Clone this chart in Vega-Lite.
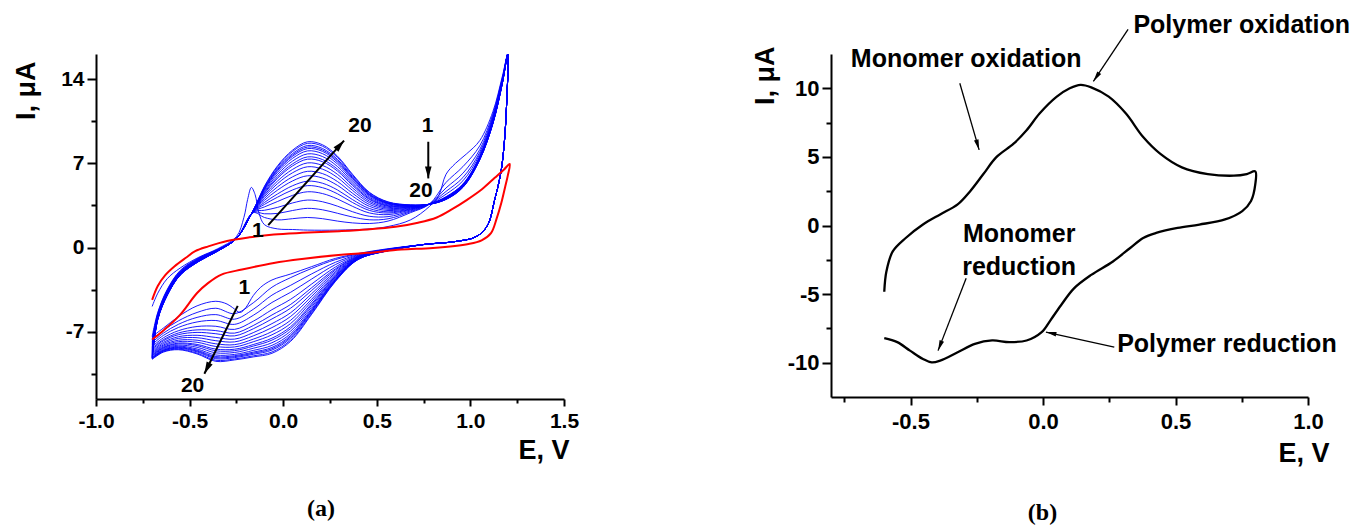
{
"$schema": "https://vega.github.io/schema/vega-lite/v6.json",
"background": "white",
"padding": {"left": 11, "top": 12, "right": 0, "bottom": 0},
"bounds": "flush",
"spacing": 267,
"config": {
 "view": {"stroke": null},
 "axis": {"domainColor": "black", "domainWidth": 2, "tickColor": "black", "tickWidth": 2, "grid": false,
  "labelFont": "Liberation Sans", "labelFontWeight": "bold", "labelFontSize": 21, "labelColor": "black",
  "titleFont": "Liberation Sans", "titleFontWeight": "bold", "titleFontSize": 27, "titleColor": "black",
  "labelFlush": false, "labelOverlap": false}
},
"hconcat": [
{
 "width": 468, "height": 345,
 "title": {"text": "(a)", "orient": "bottom", "font": "Liberation Serif", "fontSize": 24, "fontWeight": "bold", "color": "black", "anchor": "middle", "dx": -9, "offset": 34},
 "encoding": {
  "x": {"field": "E", "type": "quantitative", "scale": {"domain": [-1, 1.5], "nice": false, "zero": false},
   "axis": {"title": "E, V", "titleX": 473, "titleY": 51, "titleAlign": "right", "titleBaseline": "middle", "titleAngle": 0,
    "values": [-1, -0.75, -0.5, -0.25, 0, 0.25, 0.5, 0.75, 1, 1.25, 1.5],
    "labelExpr": "abs(datum.value*2-round(datum.value*2))<0.001 ? (datum.value<0?'-':'') + format(abs(datum.value),'.1f') : ''",
    "tickSize": {"condition": {"test": "abs(datum.value*2-round(datum.value*2))<0.001", "value": 7}, "value": 4},
    "labelPadding": 4}},
  "y": {"field": "I", "type": "quantitative", "scale": {"domain": [-12.6, 16.1], "nice": false, "zero": false},
   "axis": {"title": "I, μA", "titleX": -70, "titleY": 7, "titleAlign": "right", "titleBaseline": "middle", "titleAngle": -90,
    "values": [-10.5, -7, -3.5, 0, 3.5, 7, 10.5, 14],
    "labelExpr": "datum.value % 7 === 0 ? (datum.value<0?'-':'') + abs(datum.value) : ''",
    "tickSize": {"condition": {"test": "datum.value % 7 === 0", "value": 9}, "value": 5},
    "labelPadding": 3}}
 },
 "layer": [
  {"data": {"values": [
{"c":1,"E":-0.7,"I":-4.9},{"c":1,"E":-0.67,"I":-3.8},{"c":1,"E":-0.62,"I":-2.6},{"c":1,"E":-0.55,"I":-1.7},{"c":1,"E":-0.45,"I":-0.8},{"c":1,"E":-0.35,"I":-0.1},{"c":1,"E":-0.25,"I":0.9},{"c":1,"E":-0.21,"I":2.5},{"c":1,"E":-0.19,"I":4.0},{"c":1,"E":-0.17,"I":5.0},{"c":1,"E":-0.15,"I":4.4},{"c":1,"E":-0.13,"I":2.9},{"c":1,"E":-0.1,"I":1.9},{"c":1,"E":-0.03,"I":1.55},{"c":1,"E":0.05,"I":1.5},{"c":1,"E":0.13,"I":1.45},{"c":1,"E":0.29,"I":1.45},{"c":1,"E":0.46,"I":1.55},{"c":1,"E":0.56,"I":1.75},{"c":1,"E":0.68,"I":2.3},{"c":1,"E":0.78,"I":3.4},{"c":1,"E":0.83,"I":4.3},{"c":1,"E":0.87,"I":6.1},{"c":1,"E":0.92,"I":7.0},{"c":1,"E":0.98,"I":7.8},{"c":1,"E":1.05,"I":8.9},{"c":1,"E":1.12,"I":11.3},{"c":1,"E":1.17,"I":14.2},{"c":1,"E":1.2,"I":16.1},
{"c":1,"E":1.195,"I":12.5},{"c":1,"E":1.18,"I":8.5},{"c":1,"E":1.16,"I":6},{"c":1,"E":1.13,"I":4},{"c":1,"E":1.09,"I":1.8},{"c":1,"E":1.03,"I":0.9},{"c":1,"E":0.92,"I":0.5},{"c":1,"E":0.75,"I":0.25},{"c":1,"E":0.55,"I":-0.12},{"c":1,"E":0.4,"I":-0.5},{"c":1,"E":0.28,"I":-0.9},{"c":1,"E":0.15,"I":-1.6},{"c":1,"E":0.04,"I":-2.2},{"c":1,"E":-0.06,"I":-2.7},{"c":1,"E":-0.12,"I":-3.3},{"c":1,"E":-0.16,"I":-4.0},{"c":1,"E":-0.2,"I":-5.0},{"c":1,"E":-0.23,"I":-5.4},{"c":1,"E":-0.27,"I":-5.0},{"c":1,"E":-0.3,"I":-4.7},{"c":1,"E":-0.36,"I":-4.47},{"c":1,"E":-0.46,"I":-4.85},{"c":1,"E":-0.56,"I":-5.75},{"c":1,"E":-0.64,"I":-6.7},{"c":1,"E":-0.7,"I":-7.4},
{"c":2,"E":-0.7,"I":-7.4},{"c":2,"E":-0.67,"I":-5.4},{"c":2,"E":-0.62,"I":-3.5},{"c":2,"E":-0.55,"I":-1.9},{"c":2,"E":-0.45,"I":-0.85},{"c":2,"E":-0.35,"I":-0.15},{"c":2,"E":-0.25,"I":0.75},{"c":2,"E":-0.16,"I":2.9},{"c":2,"E":-0.1,"I":2.5},{"c":2,"E":-0.03,"I":2.3},{"c":2,"E":0.05,"I":2.4},{"c":2,"E":0.13,"I":2.5},{"c":2,"E":0.21,"I":2.4},{"c":2,"E":0.29,"I":2.2},{"c":2,"E":0.37,"I":2.05},{"c":2,"E":0.46,"I":2.0},{"c":2,"E":0.56,"I":2.2},{"c":2,"E":0.68,"I":2.9},{"c":2,"E":0.78,"I":3.6},{"c":2,"E":0.87,"I":5.42},{"c":2,"E":0.96,"I":6.73},{"c":2,"E":1.05,"I":8.46},{"c":2,"E":1.12,"I":11.1},{"c":2,"E":1.17,"I":14.08},{"c":2,"E":1.2,"I":16.1},
{"c":2,"E":1.195,"I":12.5},{"c":2,"E":1.18,"I":8.5},{"c":2,"E":1.16,"I":6},{"c":2,"E":1.13,"I":4},{"c":2,"E":1.09,"I":1.8},{"c":2,"E":1.03,"I":0.9},{"c":2,"E":0.92,"I":0.5},{"c":2,"E":0.75,"I":0.25},{"c":2,"E":0.55,"I":-0.15},{"c":2,"E":0.4,"I":-0.55},{"c":2,"E":0.28,"I":-1},{"c":2,"E":0.15,"I":-1.75},{"c":2,"E":0.04,"I":-2.5},{"c":2,"E":-0.06,"I":-3.3},{"c":2,"E":-0.16,"I":-4.6},{"c":2,"E":-0.26,"I":-5.5},{"c":2,"E":-0.36,"I":-5.05},{"c":2,"E":-0.46,"I":-5.4},{"c":2,"E":-0.56,"I":-6.1},{"c":2,"E":-0.64,"I":-6.9},{"c":2,"E":-0.7,"I":-7.7},
{"c":3,"E":-0.7,"I":-7.7},{"c":3,"E":-0.67,"I":-5.47},{"c":3,"E":-0.62,"I":-3.56},{"c":3,"E":-0.55,"I":-1.95},{"c":3,"E":-0.45,"I":-0.89},{"c":3,"E":-0.35,"I":-0.17},{"c":3,"E":-0.25,"I":0.75},{"c":3,"E":-0.16,"I":2.92},{"c":3,"E":-0.1,"I":2.81},{"c":3,"E":-0.03,"I":2.84},{"c":3,"E":0.05,"I":3.08},{"c":3,"E":0.13,"I":3.26},{"c":3,"E":0.21,"I":3.14},{"c":3,"E":0.29,"I":2.85},{"c":3,"E":0.37,"I":2.54},{"c":3,"E":0.46,"I":2.31},{"c":3,"E":0.56,"I":2.39},{"c":3,"E":0.68,"I":2.98},{"c":3,"E":0.78,"I":3.6},{"c":3,"E":0.87,"I":4.96},{"c":3,"E":0.96,"I":6.18},{"c":3,"E":1.05,"I":8.15},{"c":3,"E":1.12,"I":10.94},{"c":3,"E":1.17,"I":13.98},{"c":3,"E":1.2,"I":16.1},
{"c":3,"E":1.195,"I":12.5},{"c":3,"E":1.18,"I":8.5},{"c":3,"E":1.16,"I":6},{"c":3,"E":1.13,"I":4},{"c":3,"E":1.09,"I":1.8},{"c":3,"E":1.03,"I":0.9},{"c":3,"E":0.92,"I":0.5},{"c":3,"E":0.75,"I":0.25},{"c":3,"E":0.55,"I":-0.17},{"c":3,"E":0.4,"I":-0.6},{"c":3,"E":0.28,"I":-1.22},{"c":3,"E":0.15,"I":-2.21},{"c":3,"E":0.04,"I":-3.14},{"c":3,"E":-0.06,"I":-3.96},{"c":3,"E":-0.16,"I":-5.14},{"c":3,"E":-0.26,"I":-5.96},{"c":3,"E":-0.36,"I":-5.58},{"c":3,"E":-0.46,"I":-5.81},{"c":3,"E":-0.56,"I":-6.39},{"c":3,"E":-0.64,"I":-7.12},{"c":3,"E":-0.7,"I":-7.89},
{"c":4,"E":-0.7,"I":-7.89},{"c":4,"E":-0.67,"I":-5.54},{"c":4,"E":-0.62,"I":-3.62},{"c":4,"E":-0.55,"I":-1.99},{"c":4,"E":-0.45,"I":-0.92},{"c":4,"E":-0.35,"I":-0.18},{"c":4,"E":-0.25,"I":0.75},{"c":4,"E":-0.16,"I":2.95},{"c":4,"E":-0.1,"I":3.1},{"c":4,"E":-0.03,"I":3.34},{"c":4,"E":0.05,"I":3.71},{"c":4,"E":0.13,"I":3.95},{"c":4,"E":0.21,"I":3.81},{"c":4,"E":0.29,"I":3.44},{"c":4,"E":0.37,"I":2.98},{"c":4,"E":0.46,"I":2.6},{"c":4,"E":0.56,"I":2.57},{"c":4,"E":0.68,"I":3.05},{"c":4,"E":0.78,"I":3.6},{"c":4,"E":0.87,"I":4.67},{"c":4,"E":0.96,"I":5.82},{"c":4,"E":1.05,"I":7.93},{"c":4,"E":1.12,"I":10.81},{"c":4,"E":1.17,"I":13.9},{"c":4,"E":1.2,"I":16.1},
{"c":4,"E":1.195,"I":12.5},{"c":4,"E":1.18,"I":8.5},{"c":4,"E":1.16,"I":6},{"c":4,"E":1.13,"I":4},{"c":4,"E":1.09,"I":1.8},{"c":4,"E":1.03,"I":0.9},{"c":4,"E":0.92,"I":0.5},{"c":4,"E":0.75,"I":0.25},{"c":4,"E":0.55,"I":-0.18},{"c":4,"E":0.4,"I":-0.65},{"c":4,"E":0.28,"I":-1.41},{"c":4,"E":0.15,"I":-2.64},{"c":4,"E":0.04,"I":-3.72},{"c":4,"E":-0.06,"I":-4.57},{"c":4,"E":-0.16,"I":-5.64},{"c":4,"E":-0.26,"I":-6.39},{"c":4,"E":-0.36,"I":-6.07},{"c":4,"E":-0.46,"I":-6.19},{"c":4,"E":-0.56,"I":-6.65},{"c":4,"E":-0.64,"I":-7.31},{"c":4,"E":-0.7,"I":-8.07},
{"c":5,"E":-0.7,"I":-8.07},{"c":5,"E":-0.67,"I":-5.6},{"c":5,"E":-0.62,"I":-3.67},{"c":5,"E":-0.55,"I":-2.04},{"c":5,"E":-0.45,"I":-0.95},{"c":5,"E":-0.35,"I":-0.2},{"c":5,"E":-0.25,"I":0.75},{"c":5,"E":-0.16,"I":2.97},{"c":5,"E":-0.1,"I":3.38},{"c":5,"E":-0.03,"I":3.83},{"c":5,"E":0.05,"I":4.34},{"c":5,"E":0.13,"I":4.64},{"c":5,"E":0.21,"I":4.49},{"c":5,"E":0.29,"I":4.04},{"c":5,"E":0.37,"I":3.43},{"c":5,"E":0.46,"I":2.88},{"c":5,"E":0.56,"I":2.74},{"c":5,"E":0.68,"I":3.12},{"c":5,"E":0.78,"I":3.6},{"c":5,"E":0.87,"I":4.44},{"c":5,"E":0.96,"I":5.55},{"c":5,"E":1.05,"I":7.76},{"c":5,"E":1.12,"I":10.7},{"c":5,"E":1.17,"I":13.84},{"c":5,"E":1.2,"I":16.1},
{"c":5,"E":1.195,"I":12.5},{"c":5,"E":1.18,"I":8.5},{"c":5,"E":1.16,"I":6},{"c":5,"E":1.13,"I":4},{"c":5,"E":1.09,"I":1.8},{"c":5,"E":1.03,"I":0.9},{"c":5,"E":0.92,"I":0.5},{"c":5,"E":0.75,"I":0.25},{"c":5,"E":0.55,"I":-0.2},{"c":5,"E":0.4,"I":-0.7},{"c":5,"E":0.28,"I":-1.61},{"c":5,"E":0.15,"I":-3.06},{"c":5,"E":0.04,"I":-4.3},{"c":5,"E":-0.06,"I":-5.17},{"c":5,"E":-0.16,"I":-6.13},{"c":5,"E":-0.26,"I":-6.81},{"c":5,"E":-0.36,"I":-6.55},{"c":5,"E":-0.46,"I":-6.57},{"c":5,"E":-0.56,"I":-6.92},{"c":5,"E":-0.64,"I":-7.51},{"c":5,"E":-0.7,"I":-8.24},
{"c":6,"E":-0.7,"I":-8.24},{"c":6,"E":-0.67,"I":-5.65},{"c":6,"E":-0.62,"I":-3.71},{"c":6,"E":-0.55,"I":-2.07},{"c":6,"E":-0.45,"I":-0.98},{"c":6,"E":-0.35,"I":-0.21},{"c":6,"E":-0.25,"I":0.75},{"c":6,"E":-0.16,"I":2.98},{"c":6,"E":-0.1,"I":3.59},{"c":6,"E":-0.03,"I":4.19},{"c":6,"E":0.05,"I":4.79},{"c":6,"E":0.13,"I":5.15},{"c":6,"E":0.21,"I":4.98},{"c":6,"E":0.29,"I":4.47},{"c":6,"E":0.37,"I":3.75},{"c":6,"E":0.46,"I":3.09},{"c":6,"E":0.56,"I":2.87},{"c":6,"E":0.68,"I":3.17},{"c":6,"E":0.78,"I":3.6},{"c":6,"E":0.87,"I":4.23},{"c":6,"E":0.96,"I":5.29},{"c":6,"E":1.05,"I":7.59},{"c":6,"E":1.12,"I":10.59},{"c":6,"E":1.17,"I":13.77},{"c":6,"E":1.2,"I":16.1},
{"c":6,"E":1.195,"I":12.5},{"c":6,"E":1.18,"I":8.5},{"c":6,"E":1.16,"I":6},{"c":6,"E":1.13,"I":4},{"c":6,"E":1.09,"I":1.8},{"c":6,"E":1.03,"I":0.9},{"c":6,"E":0.92,"I":0.5},{"c":6,"E":0.75,"I":0.25},{"c":6,"E":0.55,"I":-0.21},{"c":6,"E":0.4,"I":-0.74},{"c":6,"E":0.28,"I":-1.76},{"c":6,"E":0.15,"I":-3.37},{"c":6,"E":0.04,"I":-4.73},{"c":6,"E":-0.06,"I":-5.61},{"c":6,"E":-0.16,"I":-6.49},{"c":6,"E":-0.26,"I":-7.12},{"c":6,"E":-0.36,"I":-6.91},{"c":6,"E":-0.46,"I":-6.85},{"c":6,"E":-0.56,"I":-7.11},{"c":6,"E":-0.64,"I":-7.66},{"c":6,"E":-0.7,"I":-8.37},
{"c":7,"E":-0.7,"I":-8.37},{"c":7,"E":-0.67,"I":-5.69},{"c":7,"E":-0.62,"I":-3.74},{"c":7,"E":-0.55,"I":-2.09},{"c":7,"E":-0.45,"I":-0.99},{"c":7,"E":-0.35,"I":-0.22},{"c":7,"E":-0.25,"I":0.75},{"c":7,"E":-0.16,"I":3.0},{"c":7,"E":-0.1,"I":3.75},{"c":7,"E":-0.03,"I":4.46},{"c":7,"E":0.05,"I":5.14},{"c":7,"E":0.13,"I":5.52},{"c":7,"E":0.21,"I":5.35},{"c":7,"E":0.29,"I":4.79},{"c":7,"E":0.37,"I":3.99},{"c":7,"E":0.46,"I":3.25},{"c":7,"E":0.56,"I":2.97},{"c":7,"E":0.68,"I":3.21},{"c":7,"E":0.78,"I":3.6},{"c":7,"E":0.87,"I":4.21},{"c":7,"E":0.96,"I":5.26},{"c":7,"E":1.05,"I":7.56},{"c":7,"E":1.12,"I":10.56},{"c":7,"E":1.17,"I":13.76},{"c":7,"E":1.2,"I":16.1},
{"c":7,"E":1.195,"I":12.5},{"c":7,"E":1.18,"I":8.5},{"c":7,"E":1.16,"I":6},{"c":7,"E":1.13,"I":4},{"c":7,"E":1.09,"I":1.8},{"c":7,"E":1.03,"I":0.9},{"c":7,"E":0.92,"I":0.5},{"c":7,"E":0.75,"I":0.25},{"c":7,"E":0.55,"I":-0.22},{"c":7,"E":0.4,"I":-0.77},{"c":7,"E":0.28,"I":-1.86},{"c":7,"E":0.15,"I":-3.6},{"c":7,"E":0.04,"I":-5.04},{"c":7,"E":-0.06,"I":-5.94},{"c":7,"E":-0.16,"I":-6.76},{"c":7,"E":-0.26,"I":-7.35},{"c":7,"E":-0.36,"I":-7.17},{"c":7,"E":-0.46,"I":-7.06},{"c":7,"E":-0.56,"I":-7.25},{"c":7,"E":-0.64,"I":-7.76},{"c":7,"E":-0.7,"I":-8.47},
{"c":8,"E":-0.7,"I":-8.47},{"c":8,"E":-0.67,"I":-5.73},{"c":8,"E":-0.62,"I":-3.78},{"c":8,"E":-0.55,"I":-2.12},{"c":8,"E":-0.45,"I":-1.02},{"c":8,"E":-0.35,"I":-0.23},{"c":8,"E":-0.25,"I":0.75},{"c":8,"E":-0.16,"I":3.01},{"c":8,"E":-0.1,"I":3.93},{"c":8,"E":-0.03,"I":4.78},{"c":8,"E":0.05,"I":5.54},{"c":8,"E":0.13,"I":5.97},{"c":8,"E":0.21,"I":5.78},{"c":8,"E":0.29,"I":5.17},{"c":8,"E":0.37,"I":4.28},{"c":8,"E":0.46,"I":3.43},{"c":8,"E":0.56,"I":3.08},{"c":8,"E":0.68,"I":3.26},{"c":8,"E":0.78,"I":3.6},{"c":8,"E":0.87,"I":4.18},{"c":8,"E":0.96,"I":5.23},{"c":8,"E":1.05,"I":7.53},{"c":8,"E":1.12,"I":10.53},{"c":8,"E":1.17,"I":13.74},{"c":8,"E":1.2,"I":16.1},
{"c":8,"E":1.195,"I":12.5},{"c":8,"E":1.18,"I":8.5},{"c":8,"E":1.16,"I":6},{"c":8,"E":1.13,"I":4},{"c":8,"E":1.09,"I":1.8},{"c":8,"E":1.03,"I":0.9},{"c":8,"E":0.92,"I":0.5},{"c":8,"E":0.75,"I":0.25},{"c":8,"E":0.55,"I":-0.23},{"c":8,"E":0.4,"I":-0.8},{"c":8,"E":0.28,"I":-1.99},{"c":8,"E":0.15,"I":-3.87},{"c":8,"E":0.04,"I":-5.42},{"c":8,"E":-0.06,"I":-6.33},{"c":8,"E":-0.16,"I":-7.08},{"c":8,"E":-0.26,"I":-7.62},{"c":8,"E":-0.36,"I":-7.48},{"c":8,"E":-0.46,"I":-7.3},{"c":8,"E":-0.56,"I":-7.42},{"c":8,"E":-0.64,"I":-7.89},{"c":8,"E":-0.7,"I":-8.58},
{"c":9,"E":-0.7,"I":-8.58},{"c":9,"E":-0.67,"I":-5.77},{"c":9,"E":-0.62,"I":-3.81},{"c":9,"E":-0.55,"I":-2.14},{"c":9,"E":-0.45,"I":-1.03},{"c":9,"E":-0.35,"I":-0.24},{"c":9,"E":-0.25,"I":0.75},{"c":9,"E":-0.16,"I":3.02},{"c":9,"E":-0.1,"I":4.09},{"c":9,"E":-0.03,"I":5.05},{"c":9,"E":0.05,"I":5.88},{"c":9,"E":0.13,"I":6.34},{"c":9,"E":0.21,"I":6.15},{"c":9,"E":0.29,"I":5.49},{"c":9,"E":0.37,"I":4.52},{"c":9,"E":0.46,"I":3.59},{"c":9,"E":0.56,"I":3.18},{"c":9,"E":0.68,"I":3.3},{"c":9,"E":0.78,"I":3.6},{"c":9,"E":0.87,"I":4.16},{"c":9,"E":0.96,"I":5.2},{"c":9,"E":1.05,"I":7.5},{"c":9,"E":1.12,"I":10.5},{"c":9,"E":1.17,"I":13.72},{"c":9,"E":1.2,"I":16.1},
{"c":9,"E":1.195,"I":12.5},{"c":9,"E":1.18,"I":8.5},{"c":9,"E":1.16,"I":6},{"c":9,"E":1.13,"I":4},{"c":9,"E":1.09,"I":1.8},{"c":9,"E":1.03,"I":0.9},{"c":9,"E":0.92,"I":0.5},{"c":9,"E":0.75,"I":0.25},{"c":9,"E":0.55,"I":-0.24},{"c":9,"E":0.4,"I":-0.82},{"c":9,"E":0.28,"I":-2.1},{"c":9,"E":0.15,"I":-4.1},{"c":9,"E":0.04,"I":-5.73},{"c":9,"E":-0.06,"I":-6.66},{"c":9,"E":-0.16,"I":-7.35},{"c":9,"E":-0.26,"I":-7.85},{"c":9,"E":-0.36,"I":-7.75},{"c":9,"E":-0.46,"I":-7.5},{"c":9,"E":-0.56,"I":-7.56},{"c":9,"E":-0.64,"I":-8.0},{"c":9,"E":-0.7,"I":-8.68},
{"c":10,"E":-0.7,"I":-8.68},{"c":10,"E":-0.67,"I":-5.8},{"c":10,"E":-0.62,"I":-3.84},{"c":10,"E":-0.55,"I":-2.17},{"c":10,"E":-0.45,"I":-1.05},{"c":10,"E":-0.35,"I":-0.25},{"c":10,"E":-0.25,"I":0.75},{"c":10,"E":-0.16,"I":3.03},{"c":10,"E":-0.1,"I":4.24},{"c":10,"E":-0.03,"I":5.32},{"c":10,"E":0.05,"I":6.22},{"c":10,"E":0.13,"I":6.72},{"c":10,"E":0.21,"I":6.52},{"c":10,"E":0.29,"I":5.82},{"c":10,"E":0.37,"I":4.76},{"c":10,"E":0.46,"I":3.74},{"c":10,"E":0.56,"I":3.27},{"c":10,"E":0.68,"I":3.34},{"c":10,"E":0.78,"I":3.6},{"c":10,"E":0.87,"I":4.13},{"c":10,"E":0.96,"I":5.17},{"c":10,"E":1.05,"I":7.47},{"c":10,"E":1.12,"I":10.47},{"c":10,"E":1.17,"I":13.7},{"c":10,"E":1.2,"I":16.1},
{"c":10,"E":1.195,"I":12.5},{"c":10,"E":1.18,"I":8.5},{"c":10,"E":1.16,"I":6},{"c":10,"E":1.13,"I":4},{"c":10,"E":1.09,"I":1.8},{"c":10,"E":1.03,"I":0.9},{"c":10,"E":0.92,"I":0.5},{"c":10,"E":0.75,"I":0.25},{"c":10,"E":0.55,"I":-0.25},{"c":10,"E":0.4,"I":-0.85},{"c":10,"E":0.28,"I":-2.21},{"c":10,"E":0.15,"I":-4.33},{"c":10,"E":0.04,"I":-6.05},{"c":10,"E":-0.06,"I":-6.99},{"c":10,"E":-0.16,"I":-7.62},{"c":10,"E":-0.26,"I":-8.08},{"c":10,"E":-0.36,"I":-8.01},{"c":10,"E":-0.46,"I":-7.71},{"c":10,"E":-0.56,"I":-7.71},{"c":10,"E":-0.64,"I":-8.11},{"c":10,"E":-0.7,"I":-8.77},
{"c":11,"E":-0.7,"I":-8.77},{"c":11,"E":-0.67,"I":-5.83},{"c":11,"E":-0.62,"I":-3.86},{"c":11,"E":-0.55,"I":-2.19},{"c":11,"E":-0.45,"I":-1.07},{"c":11,"E":-0.35,"I":-0.26},{"c":11,"E":-0.25,"I":0.75},{"c":11,"E":-0.16,"I":3.04},{"c":11,"E":-0.1,"I":4.37},{"c":11,"E":-0.03,"I":5.54},{"c":11,"E":0.05,"I":6.5},{"c":11,"E":0.13,"I":7.04},{"c":11,"E":0.21,"I":6.83},{"c":11,"E":0.29,"I":6.09},{"c":11,"E":0.37,"I":4.97},{"c":11,"E":0.46,"I":3.87},{"c":11,"E":0.56,"I":3.35},{"c":11,"E":0.68,"I":3.37},{"c":11,"E":0.78,"I":3.6},{"c":11,"E":0.87,"I":4.11},{"c":11,"E":0.96,"I":5.14},{"c":11,"E":1.05,"I":7.44},{"c":11,"E":1.12,"I":10.44},{"c":11,"E":1.17,"I":13.68},{"c":11,"E":1.2,"I":16.1},
{"c":11,"E":1.195,"I":12.5},{"c":11,"E":1.18,"I":8.5},{"c":11,"E":1.16,"I":6},{"c":11,"E":1.13,"I":4},{"c":11,"E":1.09,"I":1.8},{"c":11,"E":1.03,"I":0.9},{"c":11,"E":0.92,"I":0.5},{"c":11,"E":0.75,"I":0.25},{"c":11,"E":0.55,"I":-0.26},{"c":11,"E":0.4,"I":-0.87},{"c":11,"E":0.28,"I":-2.3},{"c":11,"E":0.15,"I":-4.52},{"c":11,"E":0.04,"I":-6.32},{"c":11,"E":-0.06,"I":-7.26},{"c":11,"E":-0.16,"I":-7.84},{"c":11,"E":-0.26,"I":-8.27},{"c":11,"E":-0.36,"I":-8.23},{"c":11,"E":-0.46,"I":-7.88},{"c":11,"E":-0.56,"I":-7.83},{"c":11,"E":-0.64,"I":-8.2},{"c":11,"E":-0.7,"I":-8.85},
{"c":12,"E":-0.7,"I":-8.85},{"c":12,"E":-0.67,"I":-5.86},{"c":12,"E":-0.62,"I":-3.89},{"c":12,"E":-0.55,"I":-2.21},{"c":12,"E":-0.45,"I":-1.08},{"c":12,"E":-0.35,"I":-0.27},{"c":12,"E":-0.25,"I":0.75},{"c":12,"E":-0.16,"I":3.05},{"c":12,"E":-0.1,"I":4.5},{"c":12,"E":-0.03,"I":5.77},{"c":12,"E":0.05,"I":6.79},{"c":12,"E":0.13,"I":7.35},{"c":12,"E":0.21,"I":7.14},{"c":12,"E":0.29,"I":6.36},{"c":12,"E":0.37,"I":5.17},{"c":12,"E":0.46,"I":4.0},{"c":12,"E":0.56,"I":3.43},{"c":12,"E":0.68,"I":3.4},{"c":12,"E":0.78,"I":3.6},{"c":12,"E":0.87,"I":4.09},{"c":12,"E":0.96,"I":5.12},{"c":12,"E":1.05,"I":7.42},{"c":12,"E":1.12,"I":10.42},{"c":12,"E":1.17,"I":13.67},{"c":12,"E":1.2,"I":16.1},
{"c":12,"E":1.195,"I":12.5},{"c":12,"E":1.18,"I":8.5},{"c":12,"E":1.16,"I":6},{"c":12,"E":1.13,"I":4},{"c":12,"E":1.09,"I":1.8},{"c":12,"E":1.03,"I":0.9},{"c":12,"E":0.92,"I":0.5},{"c":12,"E":0.75,"I":0.25},{"c":12,"E":0.55,"I":-0.27},{"c":12,"E":0.4,"I":-0.9},{"c":12,"E":0.28,"I":-2.39},{"c":12,"E":0.15,"I":-4.71},{"c":12,"E":0.04,"I":-6.58},{"c":12,"E":-0.06,"I":-7.54},{"c":12,"E":-0.16,"I":-8.07},{"c":12,"E":-0.26,"I":-8.46},{"c":12,"E":-0.36,"I":-8.45},{"c":12,"E":-0.46,"I":-8.06},{"c":12,"E":-0.56,"I":-7.95},{"c":12,"E":-0.64,"I":-8.29},{"c":12,"E":-0.7,"I":-8.93},
{"c":13,"E":-0.7,"I":-8.93},{"c":13,"E":-0.67,"I":-5.88},{"c":13,"E":-0.62,"I":-3.9},{"c":13,"E":-0.55,"I":-2.22},{"c":13,"E":-0.45,"I":-1.09},{"c":13,"E":-0.35,"I":-0.27},{"c":13,"E":-0.25,"I":0.75},{"c":13,"E":-0.16,"I":3.06},{"c":13,"E":-0.1,"I":4.58},{"c":13,"E":-0.03,"I":5.9},{"c":13,"E":0.05,"I":6.96},{"c":13,"E":0.13,"I":7.54},{"c":13,"E":0.21,"I":7.32},{"c":13,"E":0.29,"I":6.52},{"c":13,"E":0.37,"I":5.29},{"c":13,"E":0.46,"I":4.08},{"c":13,"E":0.56,"I":3.48},{"c":13,"E":0.68,"I":3.42},{"c":13,"E":0.78,"I":3.6},{"c":13,"E":0.87,"I":4.08},{"c":13,"E":0.96,"I":5.1},{"c":13,"E":1.05,"I":7.4},{"c":13,"E":1.12,"I":10.4},{"c":13,"E":1.17,"I":13.66},{"c":13,"E":1.2,"I":16.1},
{"c":13,"E":1.195,"I":12.5},{"c":13,"E":1.18,"I":8.5},{"c":13,"E":1.16,"I":6},{"c":13,"E":1.13,"I":4},{"c":13,"E":1.09,"I":1.8},{"c":13,"E":1.03,"I":0.9},{"c":13,"E":0.92,"I":0.5},{"c":13,"E":0.75,"I":0.25},{"c":13,"E":0.55,"I":-0.27},{"c":13,"E":0.4,"I":-0.91},{"c":13,"E":0.28,"I":-2.44},{"c":13,"E":0.15,"I":-4.83},{"c":13,"E":0.04,"I":-6.74},{"c":13,"E":-0.06,"I":-7.7},{"c":13,"E":-0.16,"I":-8.2},{"c":13,"E":-0.26,"I":-8.58},{"c":13,"E":-0.36,"I":-8.59},{"c":13,"E":-0.46,"I":-8.16},{"c":13,"E":-0.56,"I":-8.02},{"c":13,"E":-0.64,"I":-8.34},{"c":13,"E":-0.7,"I":-8.98},
{"c":14,"E":-0.7,"I":-8.98},{"c":14,"E":-0.67,"I":-5.9},{"c":14,"E":-0.62,"I":-3.92},{"c":14,"E":-0.55,"I":-2.24},{"c":14,"E":-0.45,"I":-1.1},{"c":14,"E":-0.35,"I":-0.28},{"c":14,"E":-0.25,"I":0.75},{"c":14,"E":-0.16,"I":3.07},{"c":14,"E":-0.1,"I":4.68},{"c":14,"E":-0.03,"I":6.08},{"c":14,"E":0.05,"I":7.19},{"c":14,"E":0.13,"I":7.79},{"c":14,"E":0.21,"I":7.57},{"c":14,"E":0.29,"I":6.74},{"c":14,"E":0.37,"I":5.45},{"c":14,"E":0.46,"I":4.18},{"c":14,"E":0.56,"I":3.54},{"c":14,"E":0.68,"I":3.45},{"c":14,"E":0.78,"I":3.6},{"c":14,"E":0.87,"I":4.06},{"c":14,"E":0.96,"I":5.08},{"c":14,"E":1.05,"I":7.38},{"c":14,"E":1.12,"I":10.38},{"c":14,"E":1.17,"I":13.65},{"c":14,"E":1.2,"I":16.1},
{"c":14,"E":1.195,"I":12.5},{"c":14,"E":1.18,"I":8.5},{"c":14,"E":1.16,"I":6},{"c":14,"E":1.13,"I":4},{"c":14,"E":1.09,"I":1.8},{"c":14,"E":1.03,"I":0.9},{"c":14,"E":0.92,"I":0.5},{"c":14,"E":0.75,"I":0.25},{"c":14,"E":0.55,"I":-0.28},{"c":14,"E":0.4,"I":-0.93},{"c":14,"E":0.28,"I":-2.51},{"c":14,"E":0.15,"I":-4.98},{"c":14,"E":0.04,"I":-6.95},{"c":14,"E":-0.06,"I":-7.92},{"c":14,"E":-0.16,"I":-8.38},{"c":14,"E":-0.26,"I":-8.73},{"c":14,"E":-0.36,"I":-8.76},{"c":14,"E":-0.46,"I":-8.3},{"c":14,"E":-0.56,"I":-8.12},{"c":14,"E":-0.64,"I":-8.41},{"c":14,"E":-0.7,"I":-9.04},
{"c":15,"E":-0.7,"I":-9.04},{"c":15,"E":-0.67,"I":-5.93},{"c":15,"E":-0.62,"I":-3.94},{"c":15,"E":-0.55,"I":-2.25},{"c":15,"E":-0.45,"I":-1.11},{"c":15,"E":-0.35,"I":-0.28},{"c":15,"E":-0.25,"I":0.75},{"c":15,"E":-0.16,"I":3.08},{"c":15,"E":-0.1,"I":4.79},{"c":15,"E":-0.03,"I":6.26},{"c":15,"E":0.05,"I":7.42},{"c":15,"E":0.13,"I":8.04},{"c":15,"E":0.21,"I":7.81},{"c":15,"E":0.29,"I":6.95},{"c":15,"E":0.37,"I":5.61},{"c":15,"E":0.46,"I":4.29},{"c":15,"E":0.56,"I":3.61},{"c":15,"E":0.68,"I":3.47},{"c":15,"E":0.78,"I":3.6},{"c":15,"E":0.87,"I":4.05},{"c":15,"E":0.96,"I":5.06},{"c":15,"E":1.05,"I":7.36},{"c":15,"E":1.12,"I":10.36},{"c":15,"E":1.17,"I":13.64},{"c":15,"E":1.2,"I":16.1},
{"c":15,"E":1.195,"I":12.5},{"c":15,"E":1.18,"I":8.5},{"c":15,"E":1.16,"I":6},{"c":15,"E":1.13,"I":4},{"c":15,"E":1.09,"I":1.8},{"c":15,"E":1.03,"I":0.9},{"c":15,"E":0.92,"I":0.5},{"c":15,"E":0.75,"I":0.25},{"c":15,"E":0.55,"I":-0.28},{"c":15,"E":0.4,"I":-0.95},{"c":15,"E":0.28,"I":-2.58},{"c":15,"E":0.15,"I":-5.14},{"c":15,"E":0.04,"I":-7.16},{"c":15,"E":-0.06,"I":-8.14},{"c":15,"E":-0.16,"I":-8.56},{"c":15,"E":-0.26,"I":-8.89},{"c":15,"E":-0.36,"I":-8.94},{"c":15,"E":-0.46,"I":-8.44},{"c":15,"E":-0.56,"I":-8.21},{"c":15,"E":-0.64,"I":-8.48},{"c":15,"E":-0.7,"I":-9.11},
{"c":16,"E":-0.7,"I":-9.11},{"c":16,"E":-0.67,"I":-5.95},{"c":16,"E":-0.62,"I":-3.96},{"c":16,"E":-0.55,"I":-2.26},{"c":16,"E":-0.45,"I":-1.12},{"c":16,"E":-0.35,"I":-0.29},{"c":16,"E":-0.25,"I":0.75},{"c":16,"E":-0.16,"I":3.08},{"c":16,"E":-0.1,"I":4.87},{"c":16,"E":-0.03,"I":6.4},{"c":16,"E":0.05,"I":7.59},{"c":16,"E":0.13,"I":8.23},{"c":16,"E":0.21,"I":8.0},{"c":16,"E":0.29,"I":7.11},{"c":16,"E":0.37,"I":5.74},{"c":16,"E":0.46,"I":4.37},{"c":16,"E":0.56,"I":3.66},{"c":16,"E":0.68,"I":3.49},{"c":16,"E":0.78,"I":3.6},{"c":16,"E":0.87,"I":4.04},{"c":16,"E":0.96,"I":5.05},{"c":16,"E":1.05,"I":7.35},{"c":16,"E":1.12,"I":10.35},{"c":16,"E":1.17,"I":13.63},{"c":16,"E":1.2,"I":16.1},
{"c":16,"E":1.195,"I":12.5},{"c":16,"E":1.18,"I":8.5},{"c":16,"E":1.16,"I":6},{"c":16,"E":1.13,"I":4},{"c":16,"E":1.09,"I":1.8},{"c":16,"E":1.03,"I":0.9},{"c":16,"E":0.92,"I":0.5},{"c":16,"E":0.75,"I":0.25},{"c":16,"E":0.55,"I":-0.29},{"c":16,"E":0.4,"I":-0.96},{"c":16,"E":0.28,"I":-2.64},{"c":16,"E":0.15,"I":-5.25},{"c":16,"E":0.04,"I":-7.32},{"c":16,"E":-0.06,"I":-8.31},{"c":16,"E":-0.16,"I":-8.7},{"c":16,"E":-0.26,"I":-9.0},{"c":16,"E":-0.36,"I":-9.07},{"c":16,"E":-0.46,"I":-8.54},{"c":16,"E":-0.56,"I":-8.28},{"c":16,"E":-0.64,"I":-8.54},{"c":16,"E":-0.7,"I":-9.16},
{"c":17,"E":-0.7,"I":-9.16},{"c":17,"E":-0.67,"I":-5.96},{"c":17,"E":-0.62,"I":-3.97},{"c":17,"E":-0.55,"I":-2.27},{"c":17,"E":-0.45,"I":-1.13},{"c":17,"E":-0.35,"I":-0.29},{"c":17,"E":-0.25,"I":0.75},{"c":17,"E":-0.16,"I":3.09},{"c":17,"E":-0.1,"I":4.92},{"c":17,"E":-0.03,"I":6.49},{"c":17,"E":0.05,"I":7.7},{"c":17,"E":0.13,"I":8.36},{"c":17,"E":0.21,"I":8.12},{"c":17,"E":0.29,"I":7.22},{"c":17,"E":0.37,"I":5.82},{"c":17,"E":0.46,"I":4.42},{"c":17,"E":0.56,"I":3.69},{"c":17,"E":0.68,"I":3.5},{"c":17,"E":0.78,"I":3.6},{"c":17,"E":0.87,"I":4.03},{"c":17,"E":0.96,"I":5.04},{"c":17,"E":1.05,"I":7.34},{"c":17,"E":1.12,"I":10.34},{"c":17,"E":1.17,"I":13.62},{"c":17,"E":1.2,"I":16.1},
{"c":17,"E":1.195,"I":12.5},{"c":17,"E":1.18,"I":8.5},{"c":17,"E":1.16,"I":6},{"c":17,"E":1.13,"I":4},{"c":17,"E":1.09,"I":1.8},{"c":17,"E":1.03,"I":0.9},{"c":17,"E":0.92,"I":0.5},{"c":17,"E":0.75,"I":0.25},{"c":17,"E":0.55,"I":-0.29},{"c":17,"E":0.4,"I":-0.97},{"c":17,"E":0.28,"I":-2.67},{"c":17,"E":0.15,"I":-5.33},{"c":17,"E":0.04,"I":-7.43},{"c":17,"E":-0.06,"I":-8.42},{"c":17,"E":-0.16,"I":-8.79},{"c":17,"E":-0.26,"I":-9.08},{"c":17,"E":-0.36,"I":-9.16},{"c":17,"E":-0.46,"I":-8.61},{"c":17,"E":-0.56,"I":-8.33},{"c":17,"E":-0.64,"I":-8.57},{"c":17,"E":-0.7,"I":-9.19},
{"c":18,"E":-0.7,"I":-9.19},{"c":18,"E":-0.67,"I":-5.97},{"c":18,"E":-0.62,"I":-3.98},{"c":18,"E":-0.55,"I":-2.28},{"c":18,"E":-0.45,"I":-1.14},{"c":18,"E":-0.35,"I":-0.29},{"c":18,"E":-0.25,"I":0.75},{"c":18,"E":-0.16,"I":3.09},{"c":18,"E":-0.1,"I":4.97},{"c":18,"E":-0.03,"I":6.58},{"c":18,"E":0.05,"I":7.82},{"c":18,"E":0.13,"I":8.49},{"c":18,"E":0.21,"I":8.24},{"c":18,"E":0.29,"I":7.33},{"c":18,"E":0.37,"I":5.9},{"c":18,"E":0.46,"I":4.47},{"c":18,"E":0.56,"I":3.72},{"c":18,"E":0.68,"I":3.52},{"c":18,"E":0.78,"I":3.6},{"c":18,"E":0.87,"I":4.02},{"c":18,"E":0.96,"I":5.03},{"c":18,"E":1.05,"I":7.33},{"c":18,"E":1.12,"I":10.33},{"c":18,"E":1.17,"I":13.62},{"c":18,"E":1.2,"I":16.1},
{"c":18,"E":1.195,"I":12.5},{"c":18,"E":1.18,"I":8.5},{"c":18,"E":1.16,"I":6},{"c":18,"E":1.13,"I":4},{"c":18,"E":1.09,"I":1.8},{"c":18,"E":1.03,"I":0.9},{"c":18,"E":0.92,"I":0.5},{"c":18,"E":0.75,"I":0.25},{"c":18,"E":0.55,"I":-0.29},{"c":18,"E":0.4,"I":-0.98},{"c":18,"E":0.28,"I":-2.71},{"c":18,"E":0.15,"I":-5.41},{"c":18,"E":0.04,"I":-7.54},{"c":18,"E":-0.06,"I":-8.53},{"c":18,"E":-0.16,"I":-8.88},{"c":18,"E":-0.26,"I":-9.16},{"c":18,"E":-0.36,"I":-9.25},{"c":18,"E":-0.46,"I":-8.68},{"c":18,"E":-0.56,"I":-8.38},{"c":18,"E":-0.64,"I":-8.61},{"c":18,"E":-0.7,"I":-9.22},
{"c":19,"E":-0.7,"I":-9.22},{"c":19,"E":-0.67,"I":-5.99},{"c":19,"E":-0.62,"I":-3.99},{"c":19,"E":-0.55,"I":-2.29},{"c":19,"E":-0.45,"I":-1.14},{"c":19,"E":-0.35,"I":-0.3},{"c":19,"E":-0.25,"I":0.75},{"c":19,"E":-0.16,"I":3.1},{"c":19,"E":-0.1,"I":5.05},{"c":19,"E":-0.03,"I":6.71},{"c":19,"E":0.05,"I":7.99},{"c":19,"E":0.13,"I":8.67},{"c":19,"E":0.21,"I":8.43},{"c":19,"E":0.29,"I":7.49},{"c":19,"E":0.37,"I":6.02},{"c":19,"E":0.46,"I":4.55},{"c":19,"E":0.56,"I":3.77},{"c":19,"E":0.68,"I":3.54},{"c":19,"E":0.78,"I":3.6},{"c":19,"E":0.87,"I":4.01},{"c":19,"E":0.96,"I":5.01},{"c":19,"E":1.05,"I":7.31},{"c":19,"E":1.12,"I":10.31},{"c":19,"E":1.17,"I":13.61},{"c":19,"E":1.2,"I":16.1},
{"c":19,"E":1.195,"I":12.5},{"c":19,"E":1.18,"I":8.5},{"c":19,"E":1.16,"I":6},{"c":19,"E":1.13,"I":4},{"c":19,"E":1.09,"I":1.8},{"c":19,"E":1.03,"I":0.9},{"c":19,"E":0.92,"I":0.5},{"c":19,"E":0.75,"I":0.25},{"c":19,"E":0.55,"I":-0.3},{"c":19,"E":0.4,"I":-0.99},{"c":19,"E":0.28,"I":-2.76},{"c":19,"E":0.15,"I":-5.52},{"c":19,"E":0.04,"I":-7.69},{"c":19,"E":-0.06,"I":-8.69},{"c":19,"E":-0.16,"I":-9.01},{"c":19,"E":-0.26,"I":-9.27},{"c":19,"E":-0.36,"I":-9.38},{"c":19,"E":-0.46,"I":-8.78},{"c":19,"E":-0.56,"I":-8.45},{"c":19,"E":-0.64,"I":-8.66},{"c":19,"E":-0.7,"I":-9.27},
{"c":20,"E":-0.7,"I":-9.27},{"c":20,"E":-0.67,"I":-6.0},{"c":20,"E":-0.62,"I":-4.0},{"c":20,"E":-0.55,"I":-2.3},{"c":20,"E":-0.45,"I":-1.15},{"c":20,"E":-0.35,"I":-0.3},{"c":20,"E":-0.25,"I":0.75},{"c":20,"E":-0.16,"I":3.1},{"c":20,"E":-0.1,"I":5.1},{"c":20,"E":-0.03,"I":6.8},{"c":20,"E":0.05,"I":8.1},{"c":20,"E":0.13,"I":8.8},{"c":20,"E":0.21,"I":8.55},{"c":20,"E":0.29,"I":7.6},{"c":20,"E":0.37,"I":6.1},{"c":20,"E":0.46,"I":4.6},{"c":20,"E":0.56,"I":3.8},{"c":20,"E":0.68,"I":3.55},{"c":20,"E":0.78,"I":3.6},{"c":20,"E":0.87,"I":4.0},{"c":20,"E":0.96,"I":5.0},{"c":20,"E":1.05,"I":7.3},{"c":20,"E":1.12,"I":10.3},{"c":20,"E":1.17,"I":13.6},{"c":20,"E":1.2,"I":16.1},
{"c":20,"E":1.195,"I":12.5},{"c":20,"E":1.18,"I":8.5},{"c":20,"E":1.16,"I":6},{"c":20,"E":1.13,"I":4},{"c":20,"E":1.09,"I":1.8},{"c":20,"E":1.03,"I":0.9},{"c":20,"E":0.92,"I":0.5},{"c":20,"E":0.75,"I":0.25},{"c":20,"E":0.55,"I":-0.3},{"c":20,"E":0.4,"I":-1.0},{"c":20,"E":0.28,"I":-2.8},{"c":20,"E":0.15,"I":-5.6},{"c":20,"E":0.04,"I":-7.8},{"c":20,"E":-0.06,"I":-8.8},{"c":20,"E":-0.16,"I":-9.1},{"c":20,"E":-0.26,"I":-9.35},{"c":20,"E":-0.36,"I":-9.47},{"c":20,"E":-0.46,"I":-8.85},{"c":20,"E":-0.56,"I":-8.5},{"c":20,"E":-0.64,"I":-8.7},{"c":20,"E":-0.7,"I":-9.3}
  ]},
   "mark": {"type": "line", "color": "#0000ff", "strokeWidth": 0.9, "interpolate": "catmull-rom", "clip": true},
   "encoding": {"detail": {"field": "c", "type": "nominal"}, "order": {"value": null}}},
  {"data": {"values": [
{"E":-0.7,"I":-4.35},{"E":-0.67,"I":-3.2},{"E":-0.63,"I":-2.3},{"E":-0.58,"I":-1.56},{"E":-0.52,"I":-0.85},{"E":-0.47,"I":-0.3},{"E":-0.4,"I":0.1},{"E":-0.3,"I":0.55},{"E":-0.18,"I":0.85},{"E":-0.05,"I":1.08},{"E":0.1,"I":1.22},{"E":0.3,"I":1.36},{"E":0.45,"I":1.5},{"E":0.6,"I":1.72},{"E":0.72,"I":2.06},{"E":0.82,"I":2.5},{"E":0.9,"I":3.17},{"E":0.98,"I":3.95},{"E":1.06,"I":4.83},{"E":1.13,"I":5.8},{"E":1.18,"I":6.5},{"E":1.21,"I":6.95},
{"E":1.2,"I":6.0},{"E":1.185,"I":5.0},{"E":1.165,"I":3.7},{"E":1.14,"I":2.4},{"E":1.11,"I":1.2},{"E":1.06,"I":0.6},{"E":0.99,"I":0.3},{"E":0.8,"I":-0.03},{"E":0.63,"I":-0.17},{"E":0.45,"I":-0.44},{"E":0.31,"I":-0.6},{"E":0.1,"I":-0.95},{"E":-0.05,"I":-1.28},{"E":-0.22,"I":-1.83},{"E":-0.33,"I":-2.25},{"E":-0.4,"I":-2.94},{"E":-0.46,"I":-3.78},{"E":-0.55,"I":-5.58},{"E":-0.635,"I":-6.83},{"E":-0.7,"I":-7.65}
  ]},
   "mark": {"type": "line", "color": "#ff0000", "strokeWidth": 2, "interpolate": "catmull-rom", "clip": true},
   "encoding": {"order": {"value": null}}},
  {"data": {"values": [
{"E":-0.08,"I":1.86,"E2":0.325,"I2":8.9},{"E":0.775,"I":8.8,"E2":0.775,"I2":5.75},{"E":-0.243,"I":-4.85,"E2":-0.421,"I2":-10.5}
  ]},
   "mark": {"type": "rule", "color": "black", "strokeWidth": 2},
   "encoding": {"x2": {"field": "E2"}, "y2": {"field": "I2"}}},
  {"data": {"values": [{"E":0.325,"I":8.9}]},
   "mark": {"type": "point", "shape": "M0,0L0.55,2L-0.55,2Z", "filled": true, "color": "black", "opacity": 1, "size": 144, "angle": 42, "strokeWidth": 0}},
  {"data": {"values": [{"E":0.775,"I":5.75}]},
   "mark": {"type": "point", "shape": "M0,0L0.55,2L-0.55,2Z", "filled": true, "color": "black", "opacity": 1, "size": 144, "angle": 180, "strokeWidth": 0}},
  {"data": {"values": [{"E":-0.421,"I":-10.5}]},
   "mark": {"type": "point", "shape": "M0,0L0.55,2L-0.55,2Z", "filled": true, "color": "black", "opacity": 1, "size": 144, "angle": 206, "strokeWidth": 0}},
  {"data": {"values": [
{"E":0.41,"I":10.1,"t":"20"},{"E":-0.135,"I":1.39,"t":"1"},{"E":0.772,"I":10.1,"t":"1"},{"E":0.736,"I":4.69,"t":"20"},{"E":-0.208,"I":-3.36,"t":"1"},{"E":-0.484,"I":-11.56,"t":"20"}
  ]},
   "mark": {"type": "text", "font": "Liberation Sans", "fontWeight": "bold", "fontSize": 21, "color": "black", "align": "center", "baseline": "middle"},
   "encoding": {"text": {"field": "t"}}}
 ]
},
{
 "width": 477, "height": 343,
 "title": {"text": "(b)", "orient": "bottom", "font": "Liberation Serif", "fontSize": 24, "fontWeight": "bold", "color": "black", "anchor": "middle", "dx": -27, "offset": 35},
 "encoding": {
  "x": {"field": "E", "type": "quantitative", "scale": {"domain": [-0.8, 1.0], "nice": false, "zero": false},
   "axis": {"title": "E, V", "titleX": 498, "titleY": 56, "titleAlign": "right", "titleBaseline": "middle", "titleAngle": 0,
    "values": [-0.75, -0.5, -0.25, 0, 0.25, 0.5, 0.75, 1],
    "labelExpr": "abs(datum.value*2-round(datum.value*2))<0.001 ? (datum.value<0?'-':'') + format(abs(datum.value),'.1f') : ''",
    "tickSize": {"condition": {"test": "abs(datum.value*2-round(datum.value*2))<0.001", "value": 8}, "value": 5},
    "labelPadding": 6, "labelFontSize": 22}},
  "y": {"field": "I", "type": "quantitative", "scale": {"domain": [-12.5, 12.5], "nice": false, "zero": false},
   "axis": {"title": "I, μA", "titleX": -66, "titleY": -8, "titleAlign": "right", "titleBaseline": "middle", "titleAngle": -90,
    "values": [-10, -7.5, -5, -2.5, 0, 2.5, 5, 7.5, 10],
    "labelExpr": "datum.value % 5 === 0 ? (datum.value<0?'-':'') + abs(datum.value) : ''",
    "tickSize": {"condition": {"test": "datum.value % 5 === 0", "value": 9}, "value": 5},
    "labelPadding": 3, "labelFontSize": 22}}
 },
 "layer": [
  {"data": {"values": [
{"E":-0.599,"I":-4.83},{"E":-0.591,"I":-3.36},{"E":-0.567,"I":-1.89},{"E":-0.518,"I":-0.91},{"E":-0.453,"I":0.07},{"E":-0.388,"I":0.81},{"E":-0.322,"I":1.54},{"E":-0.274,"I":2.52},{"E":-0.225,"I":3.75},{"E":-0.176,"I":4.98},{"E":-0.111,"I":5.96},{"E":-0.062,"I":6.94},{"E":-0.013,"I":8.16},{"E":0.052,"I":9.39},{"E":0.101,"I":10.0},{"E":0.142,"I":10.25},{"E":0.182,"I":10.07},{"E":0.248,"I":9.39},{"E":0.313,"I":8.16},{"E":0.378,"I":6.45},{"E":0.443,"I":5.22},{"E":0.524,"I":4.24},{"E":0.622,"I":3.75},{"E":0.72,"I":3.63},{"E":0.769,"I":3.75},{"E":0.801,"I":3.95},
{"E":0.801,"I":3.0},{"E":0.785,"I":1.79},{"E":0.752,"I":1.05},{"E":0.687,"I":0.44},{"E":0.59,"I":0.07},{"E":0.508,"I":-0.17},{"E":0.427,"I":-0.54},{"E":0.378,"I":-0.91},{"E":0.329,"I":-1.64},{"E":0.264,"I":-2.62},{"E":0.182,"I":-3.6},{"E":0.117,"I":-4.58},{"E":0.068,"I":-5.81},{"E":0.028,"I":-6.91},{"E":-0.005,"I":-7.77},{"E":-0.062,"I":-8.38},{"E":-0.127,"I":-8.5},{"E":-0.192,"I":-8.38},{"E":-0.257,"I":-8.63},{"E":-0.322,"I":-9.24},{"E":-0.388,"I":-9.85},{"E":-0.42,"I":-9.98},{"E":-0.453,"I":-9.73},{"E":-0.502,"I":-9.12},{"E":-0.55,"I":-8.5},{"E":-0.599,"I":-8.21}
  ]},
   "mark": {"type": "line", "color": "black", "strokeWidth": 2.3, "interpolate": "catmull-rom", "clip": true},
   "encoding": {"order": {"value": null}}},
  {"data": {"values": [
{"E":0.321,"I":14.3,"E2":0.19,"I2":10.5},{"E":-0.314,"I":10.37,"E2":-0.241,"I2":5.51},{"E":-0.29,"I":-3.85,"E2":-0.396,"I2":-9.12},{"E":0.269,"I":-8.87,"E2":0.011,"I2":-7.77}
  ]},
   "mark": {"type": "rule", "color": "black", "strokeWidth": 1.3},
   "encoding": {"x2": {"field": "E2"}, "y2": {"field": "I2"}}},
  {"data": {"values": [{"E":0.19,"I":10.5}]},
   "mark": {"type": "point", "shape": "M0,0L0.45,2L-0.45,2Z", "filled": true, "color": "black", "opacity": 1, "size": 110, "angle": 214, "strokeWidth": 0}},
  {"data": {"values": [{"E":-0.241,"I":5.51}]},
   "mark": {"type": "point", "shape": "M0,0L0.45,2L-0.45,2Z", "filled": true, "color": "black", "opacity": 1, "size": 110, "angle": 164, "strokeWidth": 0}},
  {"data": {"values": [{"E":-0.396,"I":-9.12}]},
   "mark": {"type": "point", "shape": "M0,0L0.45,2L-0.45,2Z", "filled": true, "color": "black", "opacity": 1, "size": 110, "angle": 201, "strokeWidth": 0}},
  {"data": {"values": [{"E":0.011,"I":-7.77}]},
   "mark": {"type": "point", "shape": "M0,0L0.45,2L-0.45,2Z", "filled": true, "color": "black", "opacity": 1, "size": 110, "angle": 282, "strokeWidth": 0}},
  {"data": {"values": [
{"E":0.75,"I":14.65,"t":"Polymer oxidation"},{"E":-0.29,"I":12.16,"t":"Monomer oxidation"},{"E":-0.09,"I":-0.6,"t":"Monomer"},{"E":-0.09,"I":-3.0,"t":"reduction"},{"E":0.694,"I":-8.63,"t":"Polymer reduction"}
  ]},
   "mark": {"type": "text", "font": "Liberation Sans", "fontWeight": "bold", "fontSize": 25, "color": "black", "align": "center", "baseline": "middle"},
   "encoding": {"text": {"field": "t"}}}
 ]
}
]
}
